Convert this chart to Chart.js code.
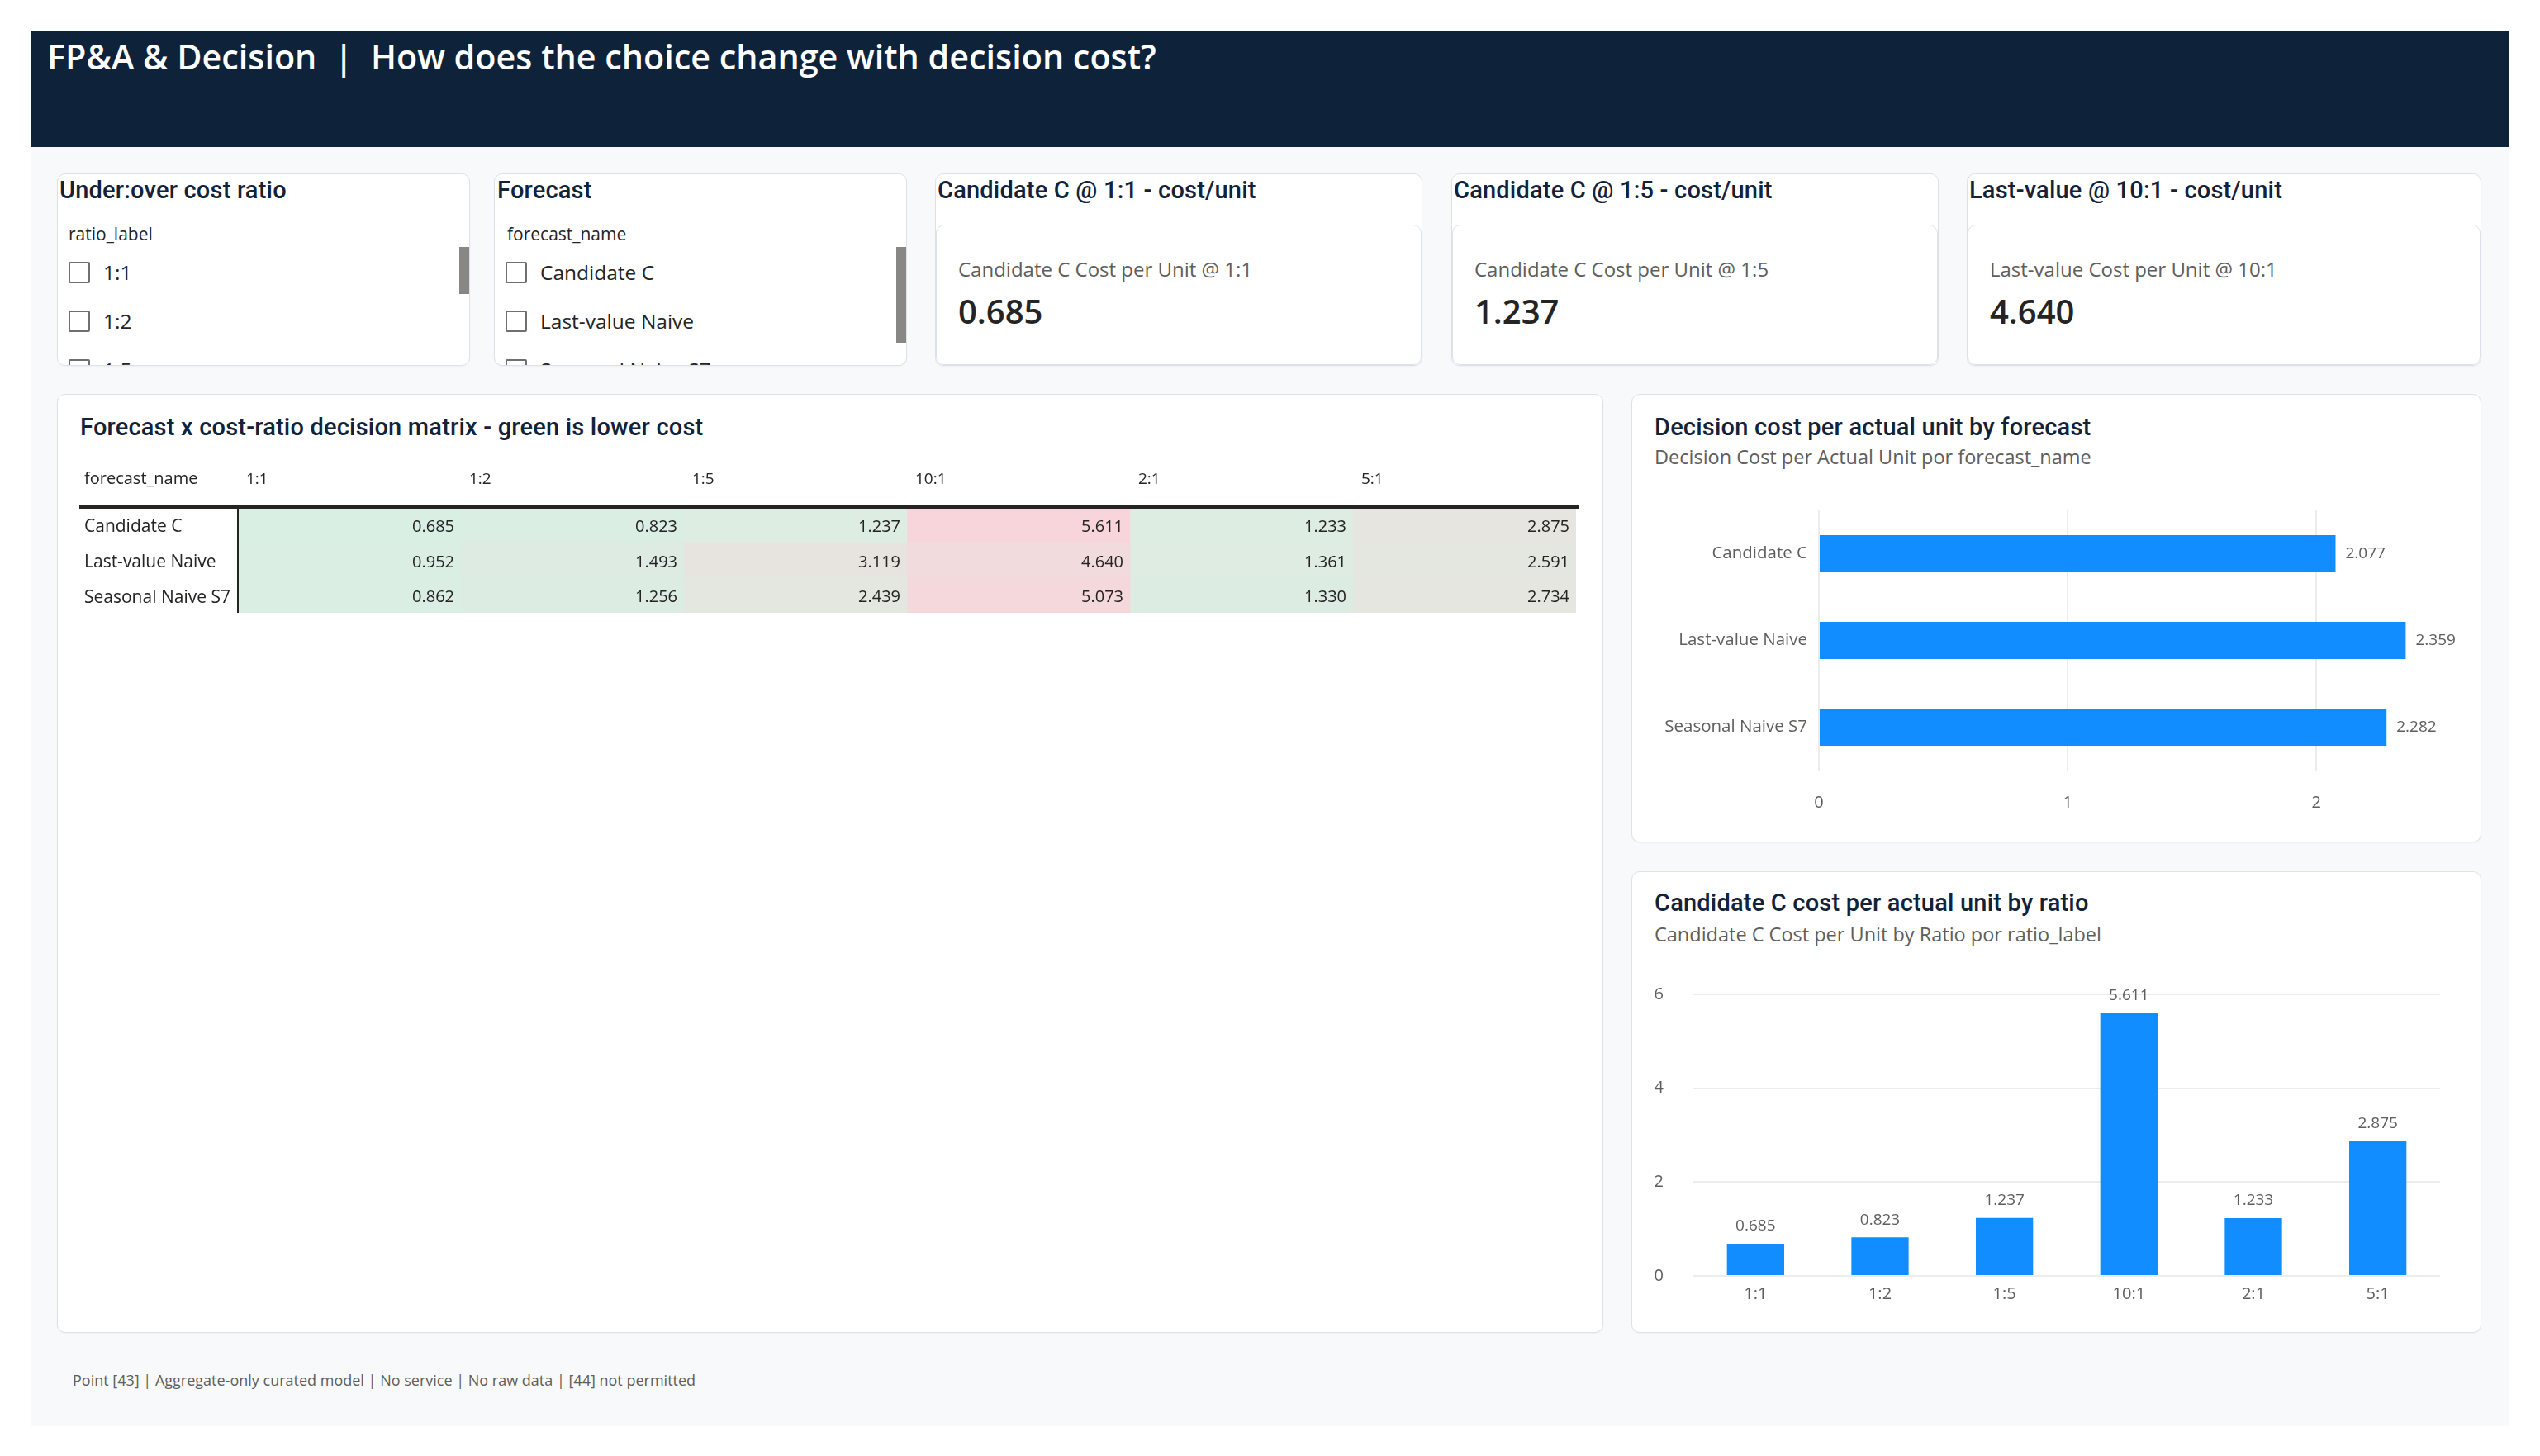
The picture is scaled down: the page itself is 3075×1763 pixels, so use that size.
<!DOCTYPE html>
<html>
<head>
<meta charset="utf-8">
<title>FP&A & Decision</title>
<script src="https://cdn.jsdelivr.net/npm/chart.js@4.4.1/dist/chart.umd.min.js"></script>
<style>
  html, body { margin: 0; padding: 0; background: #ffffff; }
  body { width: 3075px; height: 1763px; position: relative; overflow: hidden; font-family: "Open Sans", sans-serif; color: #252423; }
  .abs { position: absolute; white-space: nowrap; line-height: 1; }
  .mid { transform: translateY(-50%); }
  .page { position: absolute; left: 37px; top: 37px; width: 3000px; height: 1690px; background: #f8f9fa; }
  .header { position: absolute; left: 37px; top: 37px; width: 3000px; height: 141px; background: #0e2239; }
  .header .abs { left: 20px; top: 32px; font-weight: 600; font-size: 41.3px; color: #ffffff; }
  .card { position: absolute; background: #ffffff; border: 1px solid #dde2e8; border-radius: 10px; box-sizing: border-box; overflow: hidden; box-shadow: 0 1px 2px rgba(0,0,0,0.04); }
  .title { font-family: Roboto, sans-serif; font-weight: 500; font-size: 29px; letter-spacing: 0.2px; color: #122339; }
  .sub { font-size: 23.5px; color: #605e5c; }
  .field { font-size: 21px; color: #252423; }
  .box { position: absolute; width: 22px; height: 22px; border: 2px solid #6f6f6f; border-radius: 2px; background: #fff; }
  .item { font-size: 24.5px; color: #252423; }
  .scroll { position: absolute; width: 12px; background: #888786; }
  .inner { position: absolute; left: 0; right: 0; top: 61px; bottom: 0; border: 1px solid #dde2e8; border-radius: 10px; background: #fff; }
  .kpi-label { font-size: 24px; color: #605e5c; }
  .kpi-value { font-size: 40px; font-weight: 600; color: #252423; }
  .chartbox { position: absolute; }
  .footer { font-size: 18px; color: #605e5c; }
</style>
</head>
<body>
<div class="page"></div>
<div class="header"><div class="abs mid">FP&amp;A &amp; Decision&nbsp;&nbsp;|&nbsp;&nbsp;How does the choice change with decision cost?</div></div>

<div class="card" id="ratioSlicer" style="left:69px; top:210px; width:500px; height:233px;">
  <div class="abs mid title" style="left:2px; top:19px;">Under:over cost ratio</div>
  <div class="abs mid field" style="left:13px; top:72px;">ratio_label</div>
  <div class="scroll" style="left:486px; top:88px; height:57px;"></div>
</div>
<div class="card" id="forecastSlicer" style="left:598px; top:210px; width:500px; height:233px;">
  <div class="abs mid title" style="left:3px; top:19px;">Forecast</div>
  <div class="abs mid field" style="left:15px; top:72px;">forecast_name</div>
  <div class="scroll" style="left:486px; top:88px; height:116px;"></div>
</div>

<div class="card" id="kpi1" style="left:1132px; top:210px; width:590px; height:233px;">
  <div class="abs mid title" style="left:2px; top:19px;">Candidate C @ 1:1 - cost/unit</div>
  <div class="inner">
    <div class="abs mid kpi-label" style="left:26px; top:53px;">Candidate C Cost per Unit @ 1:1</div>
    <div class="abs mid kpi-value" style="left:26px; top:104px;"></div>
  </div>
</div>
<div class="card" id="kpi2" style="left:1757px; top:210px; width:590px; height:233px;">
  <div class="abs mid title" style="left:2px; top:19px;">Candidate C @ 1:5 - cost/unit</div>
  <div class="inner">
    <div class="abs mid kpi-label" style="left:26px; top:53px;">Candidate C Cost per Unit @ 1:5</div>
    <div class="abs mid kpi-value" style="left:26px; top:104px;"></div>
  </div>
</div>
<div class="card" id="kpi3" style="left:2381px; top:210px; width:623px; height:233px;">
  <div class="abs mid title" style="left:2px; top:19px;">Last-value @ 10:1 - cost/unit</div>
  <div class="inner">
    <div class="abs mid kpi-label" style="left:26px; top:53px;">Last-value Cost per Unit @ 10:1</div>
    <div class="abs mid kpi-value" style="left:26px; top:104px;"></div>
  </div>
</div>

<div class="card" style="left:69px; top:477px; width:1872px; height:1137px;">
  <div class="abs mid title" style="left:27px; top:39px;">Forecast x cost-ratio decision matrix - green is lower cost</div>
</div>
<div class="chartbox" style="left:96px; top:550px; width:1816px; height:200px;"><canvas id="matrixChart"></canvas></div>

<div class="card" style="left:1975px; top:477px; width:1029px; height:543px;">
  <div class="abs mid title" style="left:27px; top:39px;">Decision cost per actual unit by forecast</div>
  <div class="abs mid sub" style="left:27px; top:76px;">Decision Cost per Actual Unit por forecast_name</div>
</div>
<div class="chartbox" style="left:1975px; top:590px; width:1029px; height:410px;"><canvas id="forecastChart"></canvas></div>

<div class="card" style="left:1975px; top:1055px; width:1029px; height:559px;">
  <div class="abs mid title" style="left:27px; top:37px;">Candidate C cost per actual unit by ratio</div>
  <div class="abs mid sub" style="left:27px; top:76px;">Candidate C Cost per Unit by Ratio por ratio_label</div>
</div>
<div class="chartbox" style="left:1975px; top:1170px; width:1029px; height:430px;"><canvas id="ratioChart"></canvas></div>

<div class="abs mid footer" style="left:88px; top:1671px;">Point [43] | Aggregate-only curated model | No service | No raw data | [44] not permitted</div>

<script>
// Data
const ratioLabels = ['1:1', '1:2', '1:5', '10:1', '2:1', '5:1'];
const forecastNames = ['Candidate C', 'Last-value Naive', 'Seasonal Naive S7'];

// cost per actual unit, one array per forecast (same order as ratioLabels)
const candidateC = [0.685, 0.823, 1.237, 5.611, 1.233, 2.875];
const lastValueNaive = [0.952, 1.493, 3.119, 4.640, 1.361, 2.591];
const seasonalNaiveS7 = [0.862, 1.256, 2.439, 5.073, 1.330, 2.734];

// overall decision cost per actual unit by forecast
const costByForecast = [2.077, 2.359, 2.282];

const matrixRows = [candidateC, lastValueNaive, seasonalNaiveS7];

Chart.defaults.font.family = "'Open Sans', sans-serif";
Chart.defaults.animation = false;

// KPI cards
document.querySelector('#kpi1 .kpi-value').textContent = candidateC[0].toFixed(3);
document.querySelector('#kpi2 .kpi-value').textContent = candidateC[2].toFixed(3);
document.querySelector('#kpi3 .kpi-value').textContent = lastValueNaive[3].toFixed(3);

// Slicer lists
function fillSlicer(id, items) {
    const card = document.getElementById(id);
    items.forEach(function(name, i) {
        const cy = 119 + i * 59;
        const box = document.createElement('div');
        box.className = 'box';
        box.style.left = '13px';
        box.style.top = (cy - 13) + 'px';
        card.appendChild(box);
        const txt = document.createElement('div');
        txt.className = 'abs mid item';
        txt.style.left = '55px';
        txt.style.top = cy + 'px';
        txt.textContent = name;
        card.appendChild(txt);
    });
}
fillSlicer('ratioSlicer', ratioLabels.slice(0, 3));
fillSlicer('forecastSlicer', forecastNames);

// 3-colour scale for the matrix: green (low) -> neutral -> red (high)
const allCosts = matrixRows.flat();
const costMin = Math.min.apply(null, allCosts);
const costMax = Math.max.apply(null, allCosts);
const lowColor = [218, 239, 227];
const midColor = [231, 228, 223];
const highColor = [247, 213, 218];
function cellColor(v) {
    const mid = (costMin + costMax) / 2;
    let a, b, t;
    if (v <= mid) { a = lowColor; b = midColor; t = (v - costMin) / (mid - costMin); }
    else { a = midColor; b = highColor; t = (v - mid) / (costMax - mid); }
    const c = a.map((x, k) => Math.round(x + (b[k] - x) * t));
    return 'rgb(' + c.join(',') + ')';
}

// no extra label padding, so the plot area lands where the layout says
function noPad(s) {
    s.paddingLeft = 0; s.paddingRight = 0; s.paddingTop = 0; s.paddingBottom = 0;
}

// Matrix drawn as floating bars, one dataset per ratio column
const matrixText = {
    id: 'matrixText',
    afterDatasetsDraw(chart) {
        const ctx = chart.ctx;
        const xs = chart.scales.x, ys = chart.scales.y, area = chart.chartArea;
        ctx.save();
        ctx.fillStyle = '#252423';
        ctx.font = "20px 'Open Sans'";
        ctx.textAlign = 'right';
        ctx.textBaseline = 'middle';
        matrixRows.forEach(function(row, i) {
            row.forEach(function(v, j) {
                ctx.fillText(v.toFixed(3), xs.getPixelForValue(j + 1) - 8, ys.getPixelForValue(i) + 3);
            });
        });
        ctx.textAlign = 'left';
        ctx.font = "20px 'Open Sans'";
        ctx.fillText('forecast_name', 6, area.top - 34);
        ctx.strokeStyle = '#252423';
        ctx.lineWidth = 4;
        ctx.beginPath();
        ctx.moveTo(0, area.top);
        ctx.lineTo(area.right + 4, area.top);
        ctx.stroke();
        ctx.lineWidth = 2;
        ctx.beginPath();
        ctx.moveTo(area.left, area.top);
        ctx.lineTo(area.left, area.bottom);
        ctx.stroke();
        ctx.restore();
    }
};

new Chart(document.getElementById('matrixChart'), {
    type: 'bar',
    data: {
        labels: forecastNames,
        datasets: ratioLabels.map(function(r, j) {
            return {
                label: r,
                data: forecastNames.map(() => [j, j + 1]),
                backgroundColor: matrixRows.map(row => cellColor(row[j])),
                borderWidth: 0,
                barPercentage: 1,
                categoryPercentage: 1,
                grouped: false
            };
        })
    },
    options: {
        indexAxis: 'y',
        responsive: true,
        maintainAspectRatio: false,
        devicePixelRatio: 1,
        layout: { padding: { left: 6, right: 4, top: 0, bottom: 8 } },
        plugins: { legend: { display: false }, tooltip: { enabled: false } },
        scales: {
            x: {
                type: 'linear', position: 'top', min: 0, max: ratioLabels.length,
                ticks: { stepSize: 1, align: 'start', labelOffset: 10, padding: 22, color: '#252423', font: { size: 19 },
                         callback: v => ratioLabels[v] || '' },
                grid: { display: false, drawTicks: false },
                border: { display: false },
                afterFit: s => { s.height = 64; noPad(s); }
            },
            y: {
                ticks: { crossAlign: 'far', labelOffset: 3, color: '#252423', font: { size: 21 } },
                grid: { display: false, drawTicks: false },
                border: { display: false },
                afterFit: s => { s.width = 186; noPad(s); }
            }
        }
    },
    plugins: [matrixText]
});

// value labels for the two bar charts
const barValues = {
    id: 'barValues',
    afterDatasetsDraw(chart) {
        const ctx = chart.ctx;
        const horizontal = chart.options.indexAxis === 'y';
        ctx.save();
        ctx.fillStyle = '#605e5c';
        ctx.font = "19px 'Open Sans'";
        ctx.textBaseline = 'middle';
        chart.getDatasetMeta(0).data.forEach(function(bar, i) {
            const v = chart.data.datasets[0].data[i].toFixed(3);
            if (horizontal) {
                ctx.textAlign = 'left';
                ctx.fillText(v, bar.x + 12, bar.y);
            } else {
                ctx.textAlign = 'center';
                ctx.fillText(v, bar.x, bar.y - 21);
            }
        });
        ctx.restore();
    }
};

// Decision cost per actual unit by forecast
new Chart(document.getElementById('forecastChart'), {
    type: 'bar',
    data: {
        labels: forecastNames,
        datasets: [{
            data: costByForecast,
            backgroundColor: '#118dff',
            barPercentage: 0.43,
            categoryPercentage: 1
        }]
    },
    options: {
        indexAxis: 'y',
        responsive: true,
        maintainAspectRatio: false,
        devicePixelRatio: 1,
        layout: { padding: { left: 0, right: 19, top: 28, bottom: 0 } },
        plugins: { legend: { display: false }, tooltip: { enabled: false } },
        scales: {
            x: {
                min: 0, max: 2.6,
                ticks: { stepSize: 1, padding: 27, color: '#605e5c', font: { size: 20 } },
                grid: { color: '#ececec', lineWidth: 2, drawTicks: false },
                border: { display: false },
                afterBuildTicks: s => { s.ticks = s.ticks.filter(t => Number.isInteger(t.value)); },
                afterFit: s => { s.height = 67; noPad(s); }
            },
            y: {
                ticks: { padding: 14, color: '#605e5c', font: { size: 20.5 } },
                grid: { display: false, drawTicks: false },
                border: { display: false },
                afterFit: s => { s.width = 227; noPad(s); }
            }
        }
    },
    plugins: [barValues]
});

// Candidate C cost per actual unit by ratio
new Chart(document.getElementById('ratioChart'), {
    type: 'bar',
    data: {
        labels: ratioLabels,
        datasets: [{
            data: candidateC,
            backgroundColor: '#118dff',
            barPercentage: 0.46,
            categoryPercentage: 1
        }]
    },
    options: {
        responsive: true,
        maintainAspectRatio: false,
        devicePixelRatio: 1,
        layout: { padding: { left: 0, right: 50, top: 34, bottom: 0 } },
        plugins: { legend: { display: false }, tooltip: { enabled: false } },
        scales: {
            y: {
                min: 0, max: 6,
                ticks: { stepSize: 2, padding: 36, color: '#605e5c', font: { size: 20 } },
                grid: { color: '#ececec', lineWidth: 2, drawTicks: false },
                border: { display: false },
                afterFit: s => { s.width = 75; noPad(s); }
            },
            x: {
                ticks: { padding: 10, color: '#605e5c', font: { size: 20 } },
                grid: { display: false, drawTicks: false },
                border: { display: false },
                afterFit: s => { s.height = 55; noPad(s); }
            }
        }
    },
    plugins: [barValues]
});
</script>
</body>
</html>
